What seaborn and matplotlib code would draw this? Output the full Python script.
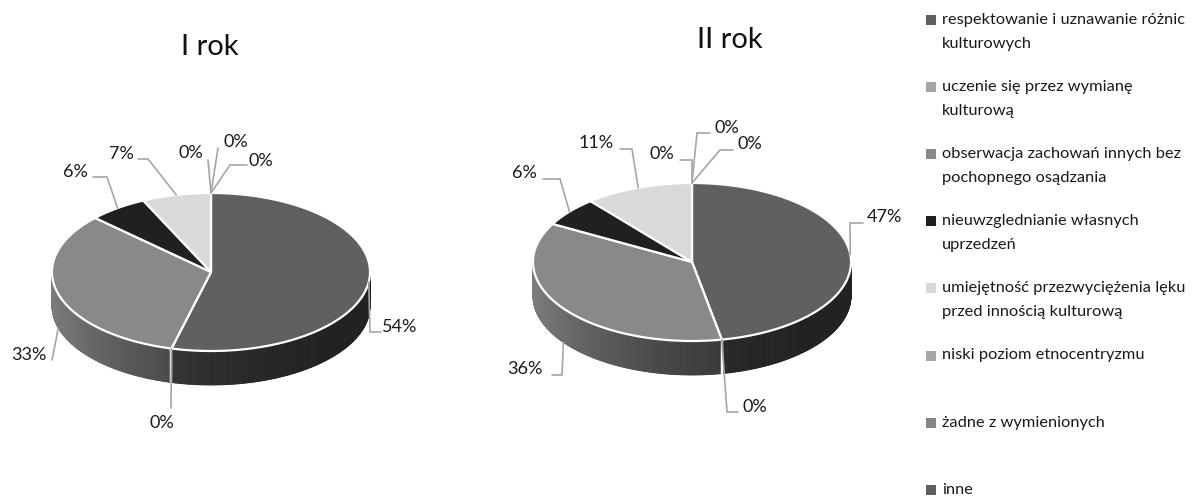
import numpy as np
import matplotlib
matplotlib.use("Agg")
import matplotlib.pyplot as plt
from matplotlib.patches import Polygon, Rectangle
import seaborn as sns

# ---- data -------------------------------------------------------------
categories = [
    "respektowanie i uznawanie różnic\nkulturowych",
    "uczenie się przez wymianę\nkulturową",
    "obserwacja zachowań innych bez\npochopnego osądzania",
    "nieuwzglednianie własnych\nuprzedzeń",
    "umiejętność przezwyciężenia lęku\nprzed innością kulturową",
    "niski poziom etnocentryzmu",
    "żadne z wymienionych",
    "inne",
]
year1_pct = [54, 0, 33, 6, 7, 0, 0, 0]
year2_pct = [47, 0, 36, 6, 11, 0, 0, 0]
titles = ["I rok", "II rok"]

# ---- style ------------------------------------------------------------
sns.set_theme(style="white")
plt.rcParams["font.family"] = ["Lato", "DejaVu Sans"]
palette = sns.color_palette(["#606060", "#a5a5a5", "#898989", "#1f201f",
                             "#d9d9d9", "#a5a5a5", "#858585", "#5f5f5f"])
LEADER = "#a6a6a6"
TEXT = "#1a1a1a"

RX, RY, DEPTH = 159, 79, 34

# pie placement (pixel space) and label layout per pie
pies = [
    dict(cx=211, cy=272, title_xy=(210, 55),
         labels=[  # (drop from rim, leader vertices, text centre)
             (0,  [(370, 332), (381, 332)], (400, 327)),
             (0,  [(171, 408)], (162, 423)),
             (34, [(52, 360)], (29, 355)),
             (0,  [(107, 177), (93, 177)], (75, 172)),
             (0,  [(148, 159), (138, 159)], (121, 154)),
             (0,  [(208, 160)], (191, 153)),
             (0,  [(218, 148)], (236, 142)),
             (0,  [(230, 165), (247, 165)], (261, 161)),
         ]),
    dict(cx=692, cy=262, title_xy=(730, 48),
         labels=[
             (0,  [(850, 223), (863, 223)], (884, 217)),
             (0,  [(727, 412), (738, 412)], (755, 407)),
             (34, [(562, 375), (552, 375)], (525, 369)),
             (0,  [(560, 179), (543, 179)], (524, 173)),
             (0,  [(632, 149), (620, 149)], (596, 143)),
             (0,  [(692, 160), (680, 160)], (662, 154)),
             (0,  [(697, 133), (710, 133)], (727, 128)),
             (0,  [(720, 150), (733, 150)], (750, 144)),
         ]),
]

fig = plt.figure(figsize=(12, 4.97), dpi=100)
ax = fig.add_axes([0, 0, 1, 1])
ax.set_xlim(0, 1200)
ax.set_ylim(497, 0)
ax.axis("off")


def rim(cx, cy, phi):
    """Point on the top ellipse; phi in degrees clockwise from 12 o'clock."""
    r = np.radians(phi)
    return cx + RX * np.sin(r), cy - RY * np.cos(r)


def side_shade(u):
    """Brightness factor of the pie wall, lighter on the left."""
    return 0.35 + 0.55 * ((1 - u) / 2) ** 2.3


def draw_pie(values, cx, cy):
    total = float(sum(values))
    bounds = np.concatenate([[0], np.cumsum(values) / total * 360])

    # walls (only the front half is visible)
    for i, v in enumerate(values):
        a, b = max(bounds[i], 90), min(bounds[i + 1], 270)
        if v == 0 or b <= a:
            continue
        base = np.array(palette[i])
        steps = np.linspace(a, b, max(2, int((b - a) * 2)))
        for p0, p1 in zip(steps[:-1], steps[1:]):
            x0, y0 = rim(cx, cy, p0)
            x1, y1 = rim(cx, cy, p1)
            col = np.clip(base * side_shade(np.sin(np.radians((p0 + p1) / 2))), 0, 1)
            ax.add_patch(Polygon([(x0, y0), (x1, y1), (x1, y1 + DEPTH), (x0, y0 + DEPTH)],
                                 closed=True, facecolor=col, edgecolor=col,
                                 linewidth=0.6, zorder=1))
    # white seams on the wall at slice borders
    for phi in bounds[1:-1]:
        if 90 < phi < 270:
            x, y = rim(cx, cy, phi)
            ax.plot([x, x], [y, y + DEPTH], color="white", lw=1.6, zorder=2)

    # top face
    for i, v in enumerate(values):
        if v == 0:
            continue
        ph = np.linspace(bounds[i], bounds[i + 1], 200)
        pts = [(cx, cy)] + [rim(cx, cy, p) for p in ph]
        ax.add_patch(Polygon(pts, closed=True, facecolor=palette[i],
                             edgecolor="white", linewidth=1.6,
                             joinstyle="round", zorder=3))
    return bounds


def draw_labels(values, bounds, cx, cy, layout):
    for i, v in enumerate(values):
        drop, verts, txy = layout[i]
        mid = (bounds[i] + bounds[i + 1]) / 2
        sx, sy = rim(cx, cy, mid)
        xs = [sx] + [p[0] for p in verts]
        ys = [sy + drop] + [p[1] for p in verts]
        ax.plot(xs, ys, color=LEADER, lw=1.2, zorder=4, solid_joinstyle="miter")
        ax.text(txy[0], txy[1], f"{v}%", ha="center", va="center",
                fontsize=13, color=TEXT, zorder=5)


for vals, cfg, title in zip([year1_pct, year2_pct], pies, titles):
    b = draw_pie(vals, cfg["cx"], cfg["cy"])
    draw_labels(vals, b, cfg["cx"], cfg["cy"], cfg["labels"])
    ax.text(cfg["title_xy"][0], cfg["title_xy"][1], title, ha="center",
            va="baseline", fontsize=21, color="#111111")

# legend
for i, name in enumerate(categories):
    yc = 20 + i * 67.1
    ax.add_patch(Rectangle((926, yc - 5), 10, 10, facecolor=palette[i],
                           edgecolor="none", zorder=3))
    for k, line in enumerate(name.split("\n")):
        ax.text(942, yc + k * 24, line, ha="left", va="center",
                fontsize=11.8, color=TEXT)

fig.savefig("out.png", dpi=100)
